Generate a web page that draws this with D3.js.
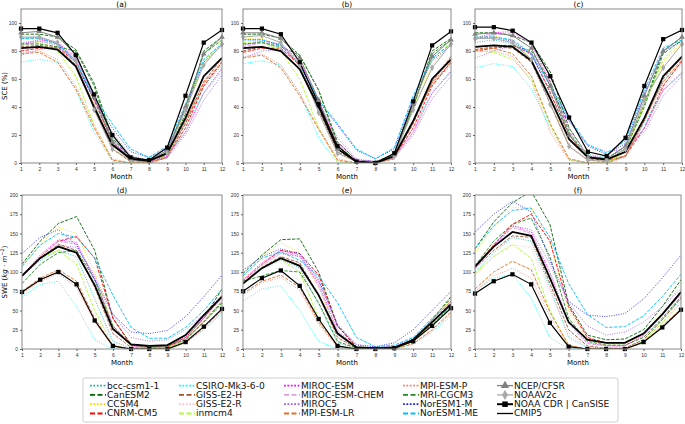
<!DOCTYPE html>
<html>
<head>
<meta charset="utf-8">
<script src="https://cdn.jsdelivr.net/npm/d3@7"></script>
<style>
  body { margin: 0; background: #fff; }
  svg { font-family: "DejaVu Sans", sans-serif; }
  .tick text { fill: #333; }
</style>
</head>
<body>
<div id="chart"></div>
<script>
var months = [1, 2, 3, 4, 5, 6, 7, 8, 9, 10, 11, 12];

var models = [
    "bcc-csm1-1", "CanESM2", "CCSM4", "CNRM-CM5",
    "CSIRO-Mk3-6-0", "GISS-E2-H", "GISS-E2-R", "inmcm4",
    "MIROC-ESM", "MIROC-ESM-CHEM", "MIROC5", "MPI-ESM-LR",
    "MPI-ESM-P", "MRI-CGCM3", "NorESM1-M", "NorESM1-ME",
    "NCEP/CFSR", "NOAAV2c", "NOAA CDR | CanSISE", "CMIP5"
];

var sceTicks = [0, 20, 40, 60, 80, 100];
var sweTicks = [0, 25, 50, 75, 100, 125, 150, 175, 200];

// one row per entry of `models`, same order
var sceA = [
    [86, 87, 84, 70, 42, 17, 5, 2, 7, 28, 55, 70],
    [92, 92, 90, 81, 57, 18, 3, 1, 6, 35, 80, 90],
    [88, 89, 85, 73, 42, 10, 1, 0, 6, 38, 70, 85],
    [80, 82, 83, 72, 45, 15, 2, 1, 4, 25, 55, 72],
    [72, 74, 72, 52, 22, 1, 0, 0, 4, 25, 50, 65],
    [83, 84, 82, 70, 40, 10, 1, 0, 4, 28, 58, 75],
    [84, 86, 84, 72, 42, 12, 1, 0, 5, 30, 60, 76],
    [85, 86, 80, 62, 27, 2, 0, 0, 6, 40, 72, 87],
    [85, 88, 86, 76, 48, 17, 2, 1, 5, 22, 50, 68],
    [84, 87, 85, 75, 47, 16, 2, 1, 5, 22, 50, 67],
    [77, 81, 83, 74, 45, 22, 5, 2, 4, 20, 45, 63],
    [78, 79, 72, 53, 25, 2, 0, 0, 4, 30, 57, 72],
    [79, 80, 74, 55, 27, 3, 0, 0, 4, 30, 58, 73],
    [85, 85, 83, 80, 55, 15, 2, 1, 8, 40, 78, 88],
    [89, 90, 85, 72, 45, 25, 8, 4, 10, 40, 72, 84],
    [89, 89, 85, 73, 47, 28, 10, 4, 12, 42, 74, 85],
    [93, 94, 90, 78, 47, 15, 3, 2, 9, 40, 78, 90],
    [90, 90, 86, 73, 38, 10, 2, 1, 7, 38, 70, 85],
    [96, 96, 93, 77, 49, 20, 4, 2, 11, 48, 86, 95],
    [82, 83, 81, 69, 40, 13, 3, 1.5, 7, 32, 62, 75]
];

var sceB = [
    [85, 86, 82, 66, 38, 12, 2, 1, 6, 30, 56, 70],
    [92, 92, 89, 77, 52, 15, 2, 1, 6, 40, 80, 89],
    [89, 89, 84, 70, 40, 7, 1, 0, 5, 40, 70, 86],
    [79, 82, 82, 70, 44, 12, 1, 0, 4, 25, 55, 72],
    [71, 73, 70, 50, 18, 0, 0, 0, 3, 25, 50, 65],
    [80, 83, 80, 67, 38, 8, 1, 0, 4, 28, 58, 76],
    [82, 84, 82, 68, 40, 10, 1, 0, 4, 30, 60, 77],
    [86, 87, 80, 60, 25, 1, 0, 0, 6, 42, 74, 86],
    [84, 87, 85, 73, 45, 15, 2, 1, 4, 22, 50, 66],
    [83, 86, 84, 72, 44, 14, 2, 1, 4, 22, 50, 65],
    [75, 80, 81, 71, 43, 18, 3, 1, 3, 20, 46, 62],
    [75, 77, 68, 48, 24, 2, 0, 0, 3, 30, 57, 72],
    [76, 78, 70, 50, 25, 3, 0, 0, 3, 30, 58, 73],
    [85, 86, 83, 77, 52, 13, 1, 0, 6, 40, 78, 88],
    [88, 88, 84, 70, 44, 27, 9, 3, 10, 46, 73, 84],
    [88, 88, 84, 70, 45, 28, 10, 3, 11, 48, 75, 85],
    [93, 93, 89, 75, 45, 10, 1, 0, 6, 42, 76, 88],
    [90, 91, 86, 70, 36, 7, 1, 0, 5, 38, 68, 85],
    [96, 96, 92, 72, 42, 12, 1, 0, 7, 44, 84, 94],
    [82, 83, 80, 67, 40, 10, 1, 0, 5, 30, 60, 74]
];

var sceC = [
    [86, 88, 85, 74, 48, 20, 6, 4, 10, 32, 58, 72],
    [93, 93, 91, 86, 65, 25, 5, 3, 12, 42, 80, 90],
    [90, 91, 87, 74, 45, 12, 2, 1, 8, 42, 72, 86],
    [80, 82, 84, 78, 50, 20, 3, 2, 5, 25, 55, 73],
    [68, 71, 69, 53, 25, 3, 0, 0, 5, 28, 52, 64],
    [81, 83, 82, 72, 42, 12, 2, 1, 5, 30, 60, 76],
    [82, 84, 83, 73, 44, 14, 2, 1, 6, 32, 62, 78],
    [80, 79, 74, 60, 27, 2, 0, 0, 8, 42, 74, 88],
    [89, 93, 94, 86, 58, 25, 5, 3, 8, 25, 52, 65],
    [88, 92, 93, 85, 56, 24, 5, 3, 8, 25, 52, 64],
    [75, 80, 84, 79, 55, 30, 13, 8, 10, 22, 48, 62],
    [81, 82, 78, 62, 28, 3, 0, 0, 5, 32, 58, 74],
    [80, 80, 76, 58, 22, 2, 0, 0, 4, 30, 56, 72],
    [83, 84, 84, 80, 58, 22, 4, 2, 10, 40, 78, 88],
    [89, 90, 87, 77, 52, 30, 12, 6, 14, 50, 80, 87],
    [90, 90, 88, 78, 55, 32, 13, 7, 16, 52, 82, 88],
    [92, 93, 91, 82, 55, 20, 4, 3, 12, 48, 80, 90],
    [89, 89, 86, 74, 42, 12, 2, 2, 10, 45, 68, 85],
    [97, 97, 94.5, 86, 62, 32.5, 8, 5, 18, 55, 88.5, 95],
    [83, 84, 83, 73, 46, 17, 4, 2.5, 8, 32, 62, 76]
];

var sweD = [
    [95, 115, 128, 120, 65, 10, 1, 0, 1, 12, 35, 58],
    [110, 140, 163, 172, 128, 40, 6, 3, 4, 14, 40, 78],
    [108, 135, 158, 150, 100, 30, 3, 1, 2, 15, 40, 70],
    [95, 120, 140, 146, 118, 40, 5, 2, 3, 15, 40, 68],
    [68, 84, 88, 55, 12, 0, 0, 0, 1, 8, 25, 46],
    [94, 118, 136, 128, 80, 20, 2, 1, 1, 12, 36, 62],
    [95, 118, 134, 126, 80, 20, 2, 1, 1, 12, 36, 60],
    [95, 118, 128, 110, 50, 5, 0, 0, 1, 12, 35, 60],
    [95, 122, 142, 138, 92, 30, 4, 2, 3, 15, 42, 68],
    [94, 120, 140, 136, 90, 28, 4, 2, 3, 14, 40, 66],
    [95, 118, 135, 132, 95, 45, 15, 10, 12, 25, 45, 70],
    [75, 92, 103, 88, 40, 4, 0, 0, 0, 8, 28, 50],
    [72, 88, 98, 80, 35, 3, 0, 0, 0, 8, 26, 48],
    [85, 110, 125, 128, 90, 30, 5, 3, 4, 12, 35, 60],
    [124, 145, 155, 135, 90, 45, 22, 20, 24, 42, 68, 96],
    [107, 135, 150, 145, 118, 70, 28, 14, 14, 28, 50, 78],
    null,
    null,
    [74, 90, 100, 84, 37, 4, 0, 0, 0, 9, 29, 52],
    [95, 118, 133, 125, 83, 26, 6, 4, 5, 18, 44, 68]
];

var sweE = [
    [84, 104, 116, 105, 58, 8, 1, 0, 1, 10, 32, 55],
    [98, 122, 142, 143, 100, 30, 3, 1, 2, 12, 38, 68],
    [92, 120, 138, 125, 80, 20, 1, 0, 1, 12, 38, 64],
    [88, 110, 128, 124, 96, 30, 2, 0, 1, 10, 35, 60],
    [62, 78, 82, 50, 10, 0, 0, 0, 0, 6, 22, 43],
    [85, 106, 120, 112, 70, 15, 1, 0, 1, 10, 34, 58],
    [84, 104, 118, 110, 68, 14, 1, 0, 1, 10, 33, 57],
    [86, 106, 116, 100, 40, 3, 0, 0, 0, 10, 34, 58],
    [90, 112, 128, 122, 85, 24, 2, 1, 2, 12, 38, 62],
    [89, 110, 126, 120, 82, 22, 2, 1, 2, 12, 37, 61],
    [86, 108, 124, 120, 88, 32, 6, 3, 4, 14, 38, 62],
    [72, 88, 96, 80, 35, 3, 0, 0, 0, 7, 25, 48],
    [70, 86, 93, 76, 32, 2, 0, 0, 0, 7, 24, 46],
    [88, 95, 102, 100, 60, 10, 1, 0, 1, 10, 32, 55],
    [102, 120, 130, 124, 90, 30, 5, 3, 8, 25, 50, 75],
    [95, 118, 126, 115, 95, 60, 15, 3, 5, 15, 40, 65],
    null,
    null,
    [75, 92, 102, 82, 39, 4, 0, 0, 1, 10, 30, 53],
    [85, 105, 118, 108, 70, 20, 2, 1, 2, 12, 35, 58]
];

var sweF = [
    [100, 125, 145, 140, 80, 15, 2, 1, 1, 12, 38, 65],
    [130, 165, 190, 205, 162, 58, 18, 12, 13, 25, 55, 90],
    [125, 158, 184, 184, 140, 50, 12, 5, 5, 18, 48, 85],
    [108, 135, 162, 175, 140, 55, 15, 8, 8, 20, 45, 75],
    [75, 92, 97, 66, 15, 0, 0, 0, 0, 8, 28, 50],
    [105, 128, 147, 145, 85, 25, 4, 1, 1, 12, 38, 66],
    [95, 120, 135, 132, 75, 20, 3, 1, 1, 10, 35, 62],
    [98, 120, 136, 118, 50, 4, 0, 0, 0, 10, 34, 60],
    [105, 135, 160, 152, 100, 35, 8, 4, 4, 18, 45, 72],
    [104, 132, 158, 150, 98, 33, 7, 4, 4, 17, 44, 71],
    [105, 135, 160, 155, 110, 60, 30, 18, 22, 35, 55, 78],
    [78, 100, 114, 103, 48, 5, 0, 0, 0, 8, 30, 52],
    [75, 95, 105, 92, 42, 4, 0, 0, 0, 8, 28, 50],
    [108, 140, 162, 170, 120, 40, 10, 5, 5, 15, 40, 68],
    [152, 175, 192, 178, 115, 62, 44, 42, 46, 65, 92, 122],
    [130, 160, 180, 183, 145, 85, 45, 28, 29, 43, 68, 97],
    null,
    null,
    [72, 88, 97, 84, 34, 3, 0, 0, 0, 9, 28, 51],
    [107, 133, 152, 147, 92, 35, 12, 8, 8, 20, 45, 74]
];

// line styles, same order as `models`
var lineStyle = [
    { color: "#20b2aa", dash: "dot" },
    { color: "#006400", dash: "dash" },
    { color: "#ffd700", dash: "dot" },
    { color: "#ff0000", dash: "dash" },
    { color: "#00ffff", dash: "dot" },
    { color: "#a0522d", dash: "dash" },
    { color: "#ffc0cb", dash: "dot" },
    { color: "#adff2f", dash: "dash" },
    { color: "#ff00ff", dash: "dot" },
    { color: "#dda0dd", dash: "dash" },
    { color: "#9f5fe0", dash: "dot" },
    { color: "#e0702a", dash: "dash" },
    { color: "#fa8072", dash: "dot" },
    { color: "#228b22", dash: "dash" },
    { color: "#2020ff", dash: "dot" },
    { color: "#00bfff", dash: "dash" },
    { color: "#808080", dash: "solid", marker: "triangle", width: 1 },
    { color: "#a9a9a9", dash: "solid", marker: "diamond", width: 1 },
    { color: "#000000", dash: "solid", marker: "square", width: 1.2 },
    { color: "#000000", dash: "solid", width: 1.8 }
];

var W = 685, H = 424;

var svg = d3.select('#chart').append('svg')
    .attr('width', W)
    .attr('height', H);

var panels = [
    { id: '(a)', data: sceA, x0: 21, x1: 222, y0: 9, y1: 163, top: 110, ticks: sceTicks },
    { id: '(b)', data: sceB, x0: 243, x1: 451, y0: 9, y1: 163, top: 110, ticks: sceTicks },
    { id: '(c)', data: sceC, x0: 475, x1: 682, y0: 9, y1: 163, top: 110, ticks: sceTicks },
    { id: '(d)', data: sweD, x0: 22, x1: 222, y0: 195, y1: 349, top: 200, ticks: sweTicks },
    { id: '(e)', data: sweE, x0: 243, x1: 451, y0: 195, y1: 349, top: 200, ticks: sweTicks },
    { id: '(f)', data: sweF, x0: 475, x1: 681, y0: 195, y1: 349, top: 200, ticks: sweTicks }
];

function dashFor(s, w) {
    if (s.dash === 'dot') return (1 * w) + ',' + (1.65 * w);
    if (s.dash === 'dash') return (3.7 * w) + ',' + (1.6 * w);
    return null;
}

function drawMarkers(g, pts, s, size) {
    var sym = s.marker === 'triangle' ? d3.symbolTriangle
        : s.marker === 'diamond' ? d3.symbolDiamond : d3.symbolSquare;
    g.selectAll(null).data(pts).enter().append('path')
        .attr('transform', function (p) { return 'translate(' + p[0] + ',' + p[1] + ')'; })
        .attr('d', d3.symbol().type(sym).size(size))
        .style('fill', s.color);
}

panels.forEach(function (p) {
    var x = d3.scaleLinear().domain([1, 12]).range([p.x0, p.x1]);
    var y = d3.scaleLinear().domain([0, p.top]).range([p.y1, p.y0]);

    var g = svg.append('g').attr('class', 'panel');

    var line = d3.line()
        .x(function (d, i) { return x(months[i]); })
        .y(function (d) { return y(d); });

    // plot area clip, so peaks over the top are cut like the original
    var clipId = 'clip' + p.id.replace(/[()]/g, '');
    svg.append('clipPath').attr('id', clipId).append('rect')
        .attr('x', p.x0).attr('y', p.y0)
        .attr('width', p.x1 - p.x0).attr('height', p.y1 - p.y0);

    var lines = g.append('g').attr('clip-path', 'url(#' + clipId + ')');

    p.data.forEach(function (vals, k) {
        if (!vals) return;
        var s = lineStyle[k];
        var w = s.width || 0.9;
        lines.append('path')
            .attr('d', line(vals))
            .style('fill', 'none')
            .style('stroke', s.color)
            .style('stroke-width', w)
            .style('stroke-dasharray', dashFor(s, w));
        if (s.marker) {
            var pts = vals.map(function (v, i) { return [x(months[i]), y(v)]; });
            drawMarkers(g, pts, s, s.marker === 'square' ? 18 : 14);
        }
    });

    // frame
    g.append('rect')
        .attr('x', p.x0).attr('y', p.y0)
        .attr('width', p.x1 - p.x0).attr('height', p.y1 - p.y0)
        .style('fill', 'none')
        .style('stroke', '#888')
        .style('stroke-width', 1);

    var xa = g.append('g')
        .attr('transform', 'translate(0,' + p.y1 + ')')
        .call(d3.axisBottom(x).tickValues(months).tickSize(2).tickPadding(2));
    var ya = g.append('g')
        .attr('transform', 'translate(' + p.x0 + ',0)')
        .call(d3.axisLeft(y).tickValues(p.ticks).tickSize(2).tickPadding(2));
    [xa, ya].forEach(function (a) {
        a.select('.domain').remove();
        a.selectAll('.tick line').style('stroke', '#666');
        a.selectAll('.tick text').style('font-size', '5px');
    });

    // panel title
    g.append('text')
        .attr('x', (p.x0 + p.x1) / 2)
        .attr('y', p.y0 - 2)
        .attr('text-anchor', 'middle')
        .style('font-size', '7.5px')
        .text(p.id);

    // x label
    g.append('text')
        .attr('x', (p.x0 + p.x1) / 2)
        .attr('y', p.y1 + 15.5)
        .attr('text-anchor', 'middle')
        .style('font-size', '7px')
        .text('Month');
});

// y labels
svg.append('text')
    .attr('transform', 'translate(7,86) rotate(-90)')
    .attr('text-anchor', 'middle')
    .style('font-size', '7px')
    .text('SCE (%)');

var swe = svg.append('text')
    .attr('transform', 'translate(7,272) rotate(-90)')
    .attr('text-anchor', 'middle')
    .style('font-size', '7px');
swe.append('tspan').text('SWE (');
swe.append('tspan').style('font-style', 'italic').text('kg');
swe.append('tspan').text(' \u00b7 ');
swe.append('tspan').style('font-style', 'italic').text('m');
swe.append('tspan').attr('dy', -3).style('font-size', '5px').text('\u22122');
swe.append('tspan').attr('dy', 3).text(')');

// legend
var legend = svg.append('g').attr('class', 'legend');
legend.append('rect')
    .attr('x', 83).attr('y', 378)
    .attr('width', 535).attr('height', 44)
    .attr('rx', 2)
    .style('fill', '#fff')
    .style('stroke', '#d0d0d0')
    .style('stroke-width', 1);

var colX = [90, 179, 284, 403, 497];
var rowY = [385.6, 394.9, 404.2, 413.5];

models.forEach(function (name, k) {
    var s = lineStyle[k];
    var cx = colX[Math.floor(k / 4)];
    var cy = rowY[k % 4];
    var w = s.marker === 'square' ? 2 : (s.width ? 1.3 : 1.8);
    legend.append('line')
        .attr('x1', cx).attr('x2', cx + 16)
        .attr('y1', cy).attr('y2', cy)
        .style('stroke', s.color)
        .style('stroke-width', w)
        .style('stroke-dasharray', s.dash === 'dot' ? '1.8,1.6' : s.dash === 'dash' ? '5,2.5' : null);
    if (s.marker) {
        drawMarkers(legend, [[cx + 8, cy]], s, 30);
    }
    // the original legend font is a little wider than DejaVu, stretch it
    legend.append('text')
        .attr('transform', 'translate(' + (cx + 17) + ',' + (cy + 2.9) + ') scale(1.15,1)')
        .style('font-size', '7.9px')
        .style('fill', '#111')
        .text(name);
});
</script>
</body>
</html>
